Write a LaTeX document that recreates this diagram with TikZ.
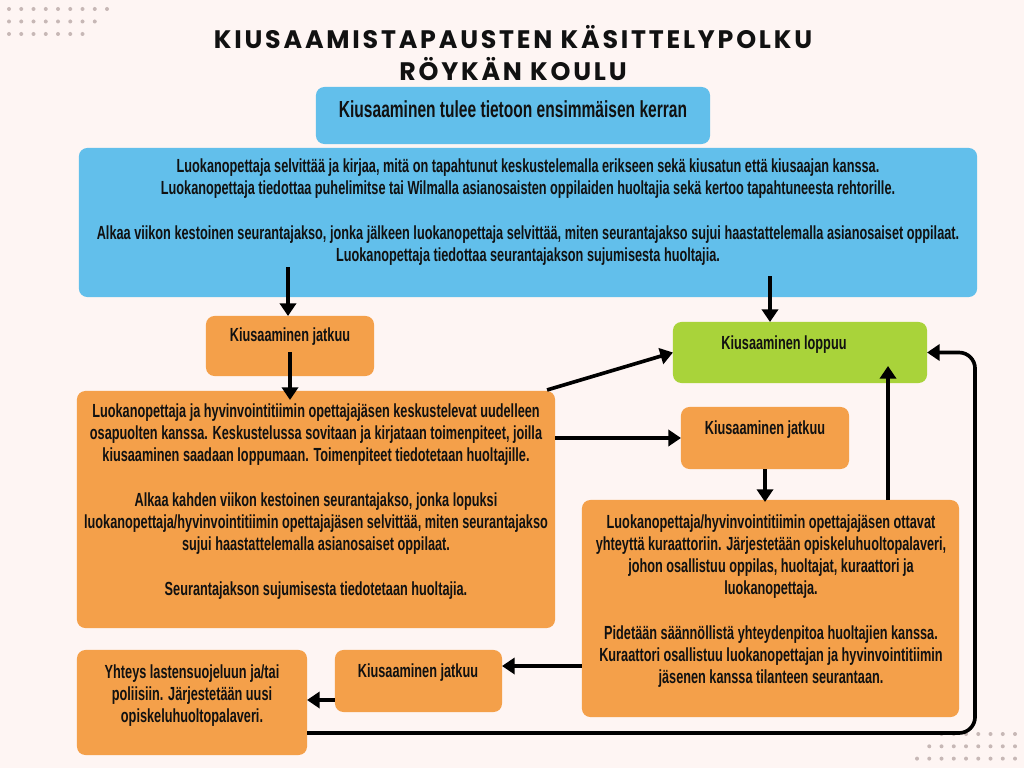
\documentclass[tikz,border=0pt]{standalone}
\usepackage{fontspec}
\setmainfont{Liberation Sans}[FakeStretch=0.67]
\newfontfamily\titlefont{Poppins}[LetterSpace=11]
\usetikzlibrary{arrows.meta,calc}
\definecolor{bgpink}{HTML}{FEF5F3}
\definecolor{boxblue}{HTML}{62BFEB}
\definecolor{boxorange}{HTML}{F4A04A}
\definecolor{boxgreen}{HTML}{A9D33A}
\definecolor{dotgrey}{HTML}{C7B8B6}
\definecolor{ink}{HTML}{111111}

\begin{document}
\begin{tikzpicture}[x=0.025cm, y=-0.025cm,
    box/.style={rounded corners=6pt, inner sep=0pt, outer sep=0pt},
    bluebox/.style={box, fill=boxblue},
    orangebox/.style={box, fill=boxorange},
    greenbox/.style={box, fill=boxgreen},
    txt/.style={align=center, text=ink, inner sep=0pt, font=\bfseries\fontsize{13.5}{15.8}\selectfont},
    arr/.style={line width=2.6pt, -{Triangle[length=9pt,width=11.5pt]}}]
    \useasboundingbox (0,0) rectangle (1024,768);
    \fill[bgpink] (0,0) rectangle (1024,768);
    \foreach \r in {0,1,2} {
        \pgfmathtruncatemacro{\n}{8-\r}
        \foreach \i in {0,...,\n}
            \fill[dotgrey] (9+12.25*\i, 9+12.5*\r) circle[radius=0.05cm];
        \pgfmathtruncatemacro{\m}{6+\r}
        \foreach \i in {0,...,\m}
            \fill[dotgrey] (1015-12.25*\i, 734+12.3*\r) circle[radius=0.05cm];
    }

    \node[align=center, text=ink, font=\titlefont\bfseries\fontsize{18}{23}\selectfont] (title) at (513,53) {KIUSAAMISTAPAUSTEN KÄSITTELYPOLKU\\RÖYKÄN KOULU};

    \node[bluebox, minimum width=9.85cm, minimum height=1.425cm] (A) at (513,115.5) {};
    \node[txt, font=\bfseries\fontsize{16.5}{18}\selectfont] (Atxt) at (513,109) {Kiusaaminen tulee tietoon ensimmäisen kerran};

    \node[bluebox, minimum width=22.45cm, minimum height=3.725cm] (B) at (528,222.5) {};
    \node[txt] (Btxt) at (528,212) {Luokanopettaja selvittää ja kirjaa, mitä on tapahtunut keskustelemalla erikseen sekä kiusatun että kiusaajan kanssa.\\
        Luokanopettaja tiedottaa puhelimitse tai Wilmalla asianosaisten oppilaiden huoltajia sekä kertoo tapahtuneesta rehtorille.\\[15.8pt]
        Alkaa viikon kestoinen seurantajakso, jonka jälkeen luokanopettaja selvittää, miten seurantajakso sujui haastattelemalla asianosaiset oppilaat.\\
        Luokanopettaja tiedottaa seurantajakson sujumisesta huoltajia.};

    \node[orangebox, minimum width=4.2cm, minimum height=1.5cm] (C) at (290,346) {};
    \node[txt] (Ctxt) at (290,337) {Kiusaaminen jatkuu};

    \node[greenbox, minimum width=6.35cm, minimum height=1.525cm] (D) at (800,352.5) {};
    \node[txt] (Dtxt) at (784,345) {Kiusaaminen loppuu};

    \node[orangebox, minimum width=11.95cm, minimum height=5.925cm] (E) at (316,509.5) {};
    \node[txt] (Etxt) at (316,501.5) {Luokanopettaja ja hyvinvointitiimin opettajajäsen keskustelevat uudelleen\\
        osapuolten kanssa. Keskustelussa sovitaan ja kirjataan toimenpiteet, joilla\\
        kiusaaminen saadaan loppumaan. Toimenpiteet tiedotetaan huoltajille.\\[15.8pt]
        Alkaa kahden viikon kestoinen seurantajakso, jonka lopuksi\\
        luokanopettaja/hyvinvointitiimin opettajajäsen selvittää, miten seurantajakso\\
        sujui haastattelemalla asianosaiset oppilaat.\\[15.8pt]
        Seurantajakson sujumisesta tiedotetaan huoltajia.};

    \node[orangebox, minimum width=4.2cm, minimum height=1.55cm] (F) at (765,438) {};
    \node[txt] (Ftxt) at (765,430) {Kiusaaminen jatkuu};

    \node[orangebox, minimum width=9.425cm, minimum height=5.425cm] (G) at (770.5,608.5) {};
    \node[txt] (Gtxt) at (771,601) {Luokanopettaja/hyvinvointitiimin opettajajäsen ottavat\\
        yhteyttä kuraattoriin. Järjestetään opiskeluhuoltopalaveri,\\
        johon osallistuu oppilas, huoltajat, kuraattori ja\\
        luokanopettaja.\\[15.8pt]
        Pidetään säännöllistä yhteydenpitoa huoltajien kanssa.\\
        Kuraattori osallistuu luokanopettajan ja hyvinvointitiimin\\
        jäsenen kanssa tilanteen seurantaan.};

    \node[orangebox, minimum width=4.175cm, minimum height=1.55cm] (H) at (418.5,681) {};
    \node[txt] (Htxt) at (418,673) {Kiusaaminen jatkuu};

    \node[orangebox, minimum width=5.75cm, minimum height=2.625cm] (I) at (192,702.5) {};
    \node[txt] (Itxt) at (192,695.5) {Yhteys lastensuojeluun ja/tai\\
        poliisiin. Järjestetään uusi\\
        opiskeluhuoltopalaveri.};

    \coordinate (b1) at (288,267);
    \coordinate (b2) at (770,276);
    \coordinate (c1) at (290,352);
    \coordinate (g1) at (888,500);
    \coordinate (h1) at ($(H.east)+(0,-15)$);
    \coordinate (h2) at ($(H.west)+(0,19)$);
    \coordinate (i1) at ($(I.east)+(0,30.5)$);

    \draw[arr] (b1) -- (b1 |- C.north);
    \draw[arr] (b2) -- (b2 |- D.north);
    \draw[arr] (c1) -- ($(c1 |- E.north)+(0,9)$);
    \draw[arr] ($(E.north east)+(-8,-1)$) -- (D.west);
    \draw[arr] (E.east |- F.west) -- (F.west);
    \draw[arr] (F.south) -- ($(F.south |- G.north)+(0,2)$);
    \draw[arr] (g1) -- ($(g1 |- D.south)+(0,-17)$);
    \draw[arr] (h1 -| G.west) -- (h1);
    \draw[arr] (h2) -- (h2 -| I.east);
    \draw[arr, rounded corners=0.4cm] (i1) -| ($(D.east)+(48,0)$) -- (D.east);
\end{tikzpicture}
\end{document}
